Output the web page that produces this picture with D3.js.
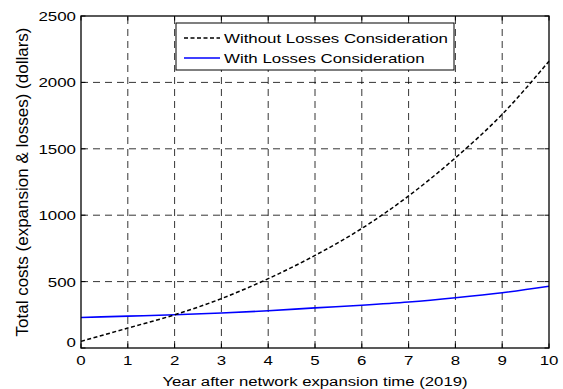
<!DOCTYPE html>
<html><head><meta charset="utf-8">
<script src="https://cdn.jsdelivr.net/npm/d3@7"></script>
<style>body{margin:0;background:#fff}svg{display:block}text{font-family:"Liberation Sans",Arial,sans-serif;fill:#000}</style>
</head><body>
<script>
const years = [0,1,2,3,4,5,6,7,8,9,10];
const withoutLosses = [50,150,250,372,522,697,900,1145,1432,1760,2160];
const withLosses = [230,240,250,263,280,302,322,346,378,416,465];
const xTicks = [0,1,2,3,4,5,6,7,8,9,10];
const yTicks = [0,500,1000,1500,2000,2500];
const seriesNames = ["Without Losses Consideration","With Losses Consideration"];
const xLabel = "Year after network expansion time (2019)";
const yLabel = "Total costs (expansion & losses) (dollars)";

const W=563,H=389;
const m={l:81,r:14,t:16,b:41};
const svg=d3.select("body").append("svg").attr("width",W).attr("height",H);
const x=d3.scaleLinear().domain([0,10]).range([m.l,W-m.r]);
const y=d3.scaleLinear().domain([0,2500]).range([H-m.b,m.t]);
const x0=x(0),x1=x(10),y0=y(0),y1=y(2500);
const FS=13.5, SX=1.25;

// grid
const g=svg.append("g");
g.selectAll(".vg").data(xTicks.slice(1,-1)).join("line")
 .attr("x1",d=>x(d)).attr("x2",d=>x(d)).attr("y1",y0).attr("y2",y1)
 .attr("stroke","#000").attr("stroke-width",0.8).attr("stroke-dasharray","7,5");
g.selectAll(".hg").data(yTicks.slice(1,-1)).join("line")
 .attr("x1",x0).attr("x2",x1).attr("y1",d=>y(d)).attr("y2",d=>y(d))
 .attr("stroke","#000").attr("stroke-width",0.8).attr("stroke-dasharray","7,5");

// ticks inside, all four sides
const tk=4.5;
xTicks.forEach(d=>{
  svg.append("line").attr("x1",x(d)).attr("x2",x(d)).attr("y1",y0).attr("y2",y0-tk).attr("stroke","#000");
  svg.append("line").attr("x1",x(d)).attr("x2",x(d)).attr("y1",y1).attr("y2",y1+tk).attr("stroke","#000");
});
yTicks.forEach(d=>{
  svg.append("line").attr("x1",x0).attr("x2",x0+tk).attr("y1",y(d)).attr("y2",y(d)).attr("stroke","#000");
  svg.append("line").attr("x1",x1).attr("x2",x1-tk).attr("y1",y(d)).attr("y2",y(d)).attr("stroke","#000");
});

// lines
const line=d3.line().x((d,i)=>x(years[i])).y(d=>y(d)).curve(d3.curveMonotoneX);
svg.append("path").datum(withLosses).attr("d",line).attr("fill","none").attr("stroke","#0000ff").attr("stroke-width",1.6);
svg.append("path").datum(withoutLosses).attr("d",line).attr("fill","none").attr("stroke","#000").attr("stroke-width",1.5).attr("stroke-dasharray","4,2.5");

// box
svg.append("rect").attr("x",x0).attr("y",y1).attr("width",x1-x0).attr("height",y0-y1)
 .attr("fill","none").attr("stroke","#000").attr("stroke-width",1.3);

function htext(px,py,str,anchor,sx){
  return svg.append("text").attr("transform",`translate(${px},${py}) scale(${sx||SX},1)`)
   .attr("font-size",FS).attr("text-anchor",anchor).text(str);
}
// tick labels
xTicks.forEach(d=>htext(x(d),y0+17,d,"middle"));
yTicks.forEach(d=>htext(x0-5,y(d)+ (d===0? -1:5),d,"end"));
// axis labels
htext((x0+x1)/2,H-3,xLabel,"middle",1.24);
svg.append("text").attr("transform",`translate(28,${(y0+y1)/2}) rotate(-90)`)
 .attr("font-size",17).attr("text-anchor","middle").text(yLabel);

// legend
const lg=svg.append("g");
lg.append("rect").attr("x",176).attr("y",23).attr("width",278).attr("height",47)
 .attr("fill","#fff").attr("stroke","#000").attr("stroke-width",1);
const styles=[{c:"#000",d:"4,2.5"},{c:"#0000ff",d:null}];
seriesNames.forEach((n,i)=>{
  const ly=38+i*20;
  lg.append("line").attr("x1",184).attr("x2",220).attr("y1",ly).attr("y2",ly)
   .attr("stroke",styles[i].c).attr("stroke-width",1.4).attr("stroke-dasharray",styles[i].d);
  htext(224,ly+5,n,"start");
});
</script>
</body></html>
